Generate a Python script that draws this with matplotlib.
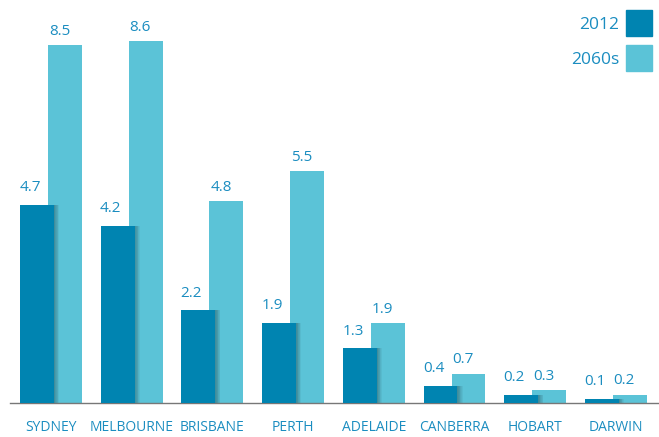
import matplotlib.pyplot as plt
import numpy as np

cities = ["SYDNEY", "MELBOURNE", "BRISBANE", "PERTH", "ADELAIDE", "CANBERRA", "HOBART", "DARWIN"]
pop_2012 = [4.7, 4.2, 2.2, 1.9, 1.3, 0.4, 0.2, 0.1]
pop_2060s = [8.5, 8.6, 4.8, 5.5, 1.9, 0.7, 0.3, 0.2]
series_names = ["2012", "2060s"]

dark = "#0084b1"
light = "#5bc3d7"
txt = "#1b8dc0"

plt.rcParams['font.family'] = ['Open Sans', 'DejaVu Sans']

fig = plt.figure(figsize=(6.59, 4.37), dpi=100)
ax = fig.add_axes([10 / 659, 34 / 437, 649 / 659, 403 / 437])

x = np.arange(len(cities))
w = 0.421
off = 0.347

# light bars behind
ax.bar(x + off, pop_2060s, width=w, color=light, zorder=1)

# soft shadow to the right of the dark bars
for k in range(1, 8):
    ax.bar(x + k * 0.009, pop_2012, width=w, color="black", alpha=0.045,
           zorder=2, linewidth=0)

ax.bar(x, pop_2012, width=w, color=dark, zorder=3)

for xi, v in zip(x, pop_2012):
    ax.annotate(f"{v}", (xi, v), xytext=(-5, 7), textcoords="offset points",
                ha="center", va="bottom", color=txt, fontsize=11)
for xi, v in zip(x + off, pop_2060s):
    ax.annotate(f"{v}", (xi, v), xytext=(-4, 4.5), textcoords="offset points",
                ha="center", va="bottom", color=txt, fontsize=11)

ax.set_xlim(-0.335, 7.708)
ax.set_ylim(0, 9.57)
ax.set_xticks(x + off / 2)
ax.set_xticklabels(cities, color=txt, fontsize=10)
ax.tick_params(axis="x", length=0, pad=12)
ax.set_yticks([])
for s in ["top", "right", "left"]:
    ax.spines[s].set_visible(False)
ax.spines["bottom"].set_color("#777777")
ax.spines["bottom"].set_linewidth(1.0)

# legend drawn by hand at top right
for i, (name, c) in enumerate(zip(series_names, [dark, light])):
    y0 = 1 - (10 + i * 35) / 437
    fig.patches.append(plt.Rectangle((626 / 659, y0 - 26 / 437), 26 / 659, 26 / 437,
                                     transform=fig.transFigure, color=c))
    fig.text(619 / 659, y0 - 15 / 437, name, ha="right", va="center",
             color=txt, fontsize=12.5)

fig.savefig("out.png", dpi=100)
